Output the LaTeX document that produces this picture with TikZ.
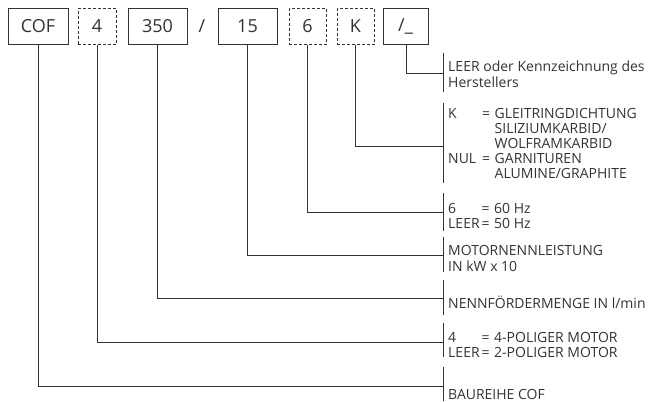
\documentclass[tikz,border=0pt]{standalone}
\usepackage{fontspec}
\setmainfont{Open Sans}
\definecolor{ink}{HTML}{333333}
\begin{document}
\begin{tikzpicture}[x=1pt,y=-1pt]
\tikzset{
  code/.style={draw=ink, line width=0.9pt, minimum height=36.5pt, inner sep=0pt,
    font=\fontsize{18}{20}\selectfont, text=ink},
  opt/.style={code, dash pattern=on 3pt off 2pt},
  lead/.style={draw=ink, line width=0.9pt},
  desc/.style={anchor=base west, inner sep=0pt, text=ink, align=left,
    font=\fontsize{14}{16}\selectfont},
  desctab/.style={desc, font=\fontsize{14}{15}\selectfont},
}
\useasboundingbox (0,0) rectangle (668,401);
% code boxes
\node[code, minimum width=60pt] (cof) at (38,26.3) {COF};
\node[opt, minimum width=38pt] (pol) at (97,26.3) {4};
\node[code, minimum width=59pt] (q) at (157.5,26.3) {350};
\node[text=ink, font=\fontsize{18}{20}\selectfont, inner sep=0pt] (sl) at (202,26.3) {/};
\node[code, minimum width=59pt] (p) at (247.5,26.3) {15};
\node[opt, minimum width=37pt] (hz) at (307.5,26.3) {6};
\node[opt, minimum width=37pt] (k) at (355.5,26.3) {K};
\node[code, minimum width=45pt] (h) at (405.5,26.3) {/\_};
% bracket attach points
\coordinate (bh) at (443,73);
\coordinate (bk) at (443,146);
\coordinate (bhz) at (443,212);
\coordinate (bp) at (443,255);
\coordinate (bq) at (443,298);
\coordinate (bpol) at (443,342);
\coordinate (bcof) at (443,386);
% brackets
\draw[lead] (443,53) -- (443,92);
\draw[lead] (443,103) -- (443,183);
\draw[lead] (443,193) -- (443,231);
\draw[lead] (443,237) -- (443,272);
\draw[lead] (443,280) -- (443,315);
\draw[lead] (443,323) -- (443,357);
\draw[lead] (443,367) -- (443,401);
% leaders
\draw[lead] ([xshift=1.2pt]h.south) |- (bh);
\draw[lead] (k.south) |- (bk);
\draw[lead] (hz.south) |- (bhz);
\draw[lead] (p.south) |- (bp);
\draw[lead] (q.south) |- (bq);
\draw[lead] (pol.south) |- (bpol);
\draw[lead] (cof.south) |- (bcof);
% descriptions
\node[desc] (th) at (448,88) {LEER oder Kennzeichnung des\\Herstellers};
\node[desctab] (tk) at (448,118.5) {\begin{tabular}[t]{@{}l@{\hspace{6pt}}l@{\hspace{4.5pt}}l@{}}
K & = & GLEITRINGDICHTUNG\\
  &   & SILIZIUMKARBID/\\
  &   & WOLFRAMKARBID\\
NUL & = & GARNITUREN\\
  &   & ALUMINE/GRAPHITE
\end{tabular}};
\node[desctab] (thz) at (448,213) {\begin{tabular}[t]{@{}l@{\hspace{2pt}}l@{\hspace{4.5pt}}l@{}}
6 & = & 60 Hz\\
LEER & = & 50 Hz
\end{tabular}};
\node[desc] (tp) at (448,271) {MOTORNENNLEISTUNG\\IN kW x 10};
\node[desc] (tq) at (448,308) {NENNFÖRDERMENGE IN l/min};
\node[desctab] (tpol) at (448,342) {\begin{tabular}[t]{@{}l@{\hspace{2pt}}l@{\hspace{4.5pt}}l@{}}
4 & = & 4-POLIGER MOTOR\\
LEER & = & 2-POLIGER MOTOR
\end{tabular}};
\node[desc] (tcof) at (448,399) {BAUREIHE COF};
\end{tikzpicture}
\end{document}
